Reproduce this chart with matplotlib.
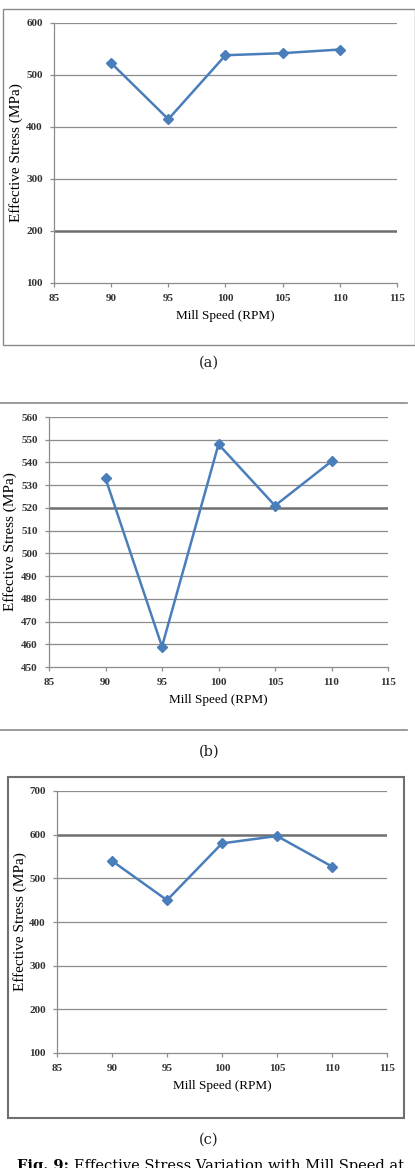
import matplotlib
matplotlib.use("Agg")
import matplotlib.pyplot as plt
from matplotlib.lines import Line2D
from matplotlib.patches import Rectangle

W, H = 415, 1168

# Mill speed (RPM) and effective stress (MPa) for the three cases
speed = [90, 95, 100, 105, 110]
stress_a = [523, 415, 538, 542, 549]
stress_b = [533, 459, 548, 521, 540.5]
stress_c = [540, 450, 580, 597, 527]

xticks = [85, 90, 95, 100, 105, 110, 115]
yticks_a = [100, 200, 300, 400, 500, 600]
yticks_b = list(range(450, 561, 10))
yticks_c = [100, 200, 300, 400, 500, 600, 700]

# the gridline that came out darker in the scanned figure
dark_a, dark_b, dark_c = 200, 520, 600

LINE = '#4a7ebb'
GRID = '#8c8c8c'
SERIF = 'Liberation Serif'

fig = plt.figure(figsize=(W / 100, H / 100), dpi=100)


def px_axes(left, top, right, bottom):
    return fig.add_axes([left / W, 1 - bottom / H, (right - left) / W, (bottom - top) / H])


def fx(x):
    return x / W


def fy(y):
    return 1 - y / H


def panel(ax, y, yticks, dark, ylab_x):
    ax.plot(speed, y, color=LINE, lw=1.8, marker='D', ms=5, zorder=3)
    ax.set_xlim(85, 115)
    ax.set_ylim(yticks[0], yticks[-1])
    ax.set_xticks(xticks)
    ax.set_yticks(yticks)
    for t in yticks[1:]:
        if t == dark:
            ax.axhline(t, color='#6e6e6e', lw=1.8, zorder=1)
        else:
            ax.axhline(t, color=GRID, lw=0.9, zorder=1)
    for s in ['top', 'right']:
        ax.spines[s].set_visible(False)
    for s in ['left', 'bottom']:
        ax.spines[s].set_color(GRID)
        ax.spines[s].set_linewidth(0.9)
    ax.tick_params(direction='out', length=3, width=0.9, color=GRID,
                   labelsize=8, pad=5)
    for lab in ax.get_xticklabels() + ax.get_yticklabels():
        lab.set_fontfamily(SERIF)
        lab.set_fontweight('bold')
        lab.set_color('#333333')
    ax.set_xlabel('Mill Speed (RPM)', fontsize=9.5, family=SERIF, labelpad=5)
    ax.set_ylabel('Effective Stress (MPa)', fontsize=11, family=SERIF)
    pos = ax.get_position()
    ax.yaxis.set_label_coords(ylab_x, (pos.y0 + pos.y1) / 2, transform=fig.transFigure)


ax_a = px_axes(54, 23, 397, 283)
panel(ax_a, stress_a, yticks_a, dark_a, fx(23))
ax_b = px_axes(49, 417, 388, 667)
panel(ax_b, stress_b, yticks_b, dark_b, fx(17))
ax_c = px_axes(57, 791, 387, 1053)
panel(ax_c, stress_c, yticks_c, dark_c, fx(27))

# frames around the panels
fig.patches.append(Rectangle((fx(3), fy(345)), fx(412), 336 / H, transform=fig.transFigure,
                             fill=False, ec='#8a8a8a', lw=1.0))
for yy in [403, 730]:
    fig.add_artist(Line2D([fx(0), fx(407)], [fy(yy), fy(yy)], transform=fig.transFigure,
                          color='#8a8a8a', lw=1.2))
fig.patches.append(Rectangle((fx(8), fy(1118)), fx(396), 341 / H, transform=fig.transFigure,
                             fill=False, ec='#707070', lw=1.5))

# sub-captions
for lab, yy in [('(a)', 363), ('(b)', 752), ('(c)', 1140)]:
    fig.text(fx(209), fy(yy), lab, ha='center', va='center', fontsize=10.5,
             family='DejaVu Serif', color='#222222')

# figure caption, cut off by the bottom edge as in the source page
t1 = fig.text(fx(17), fy(1170), 'Fig. 9:', ha='left', va='baseline', fontsize=10.5,
              family='DejaVu Serif', fontweight='bold')
fig.canvas.draw()
bb = t1.get_window_extent(fig.canvas.get_renderer())
fig.text((bb.x1 + 5) / W, fy(1170), 'Effective Stress Variation with Mill Speed at',
         ha='left', va='baseline', fontsize=10.5, family='DejaVu Serif')

fig.savefig('out.png', dpi=100)
